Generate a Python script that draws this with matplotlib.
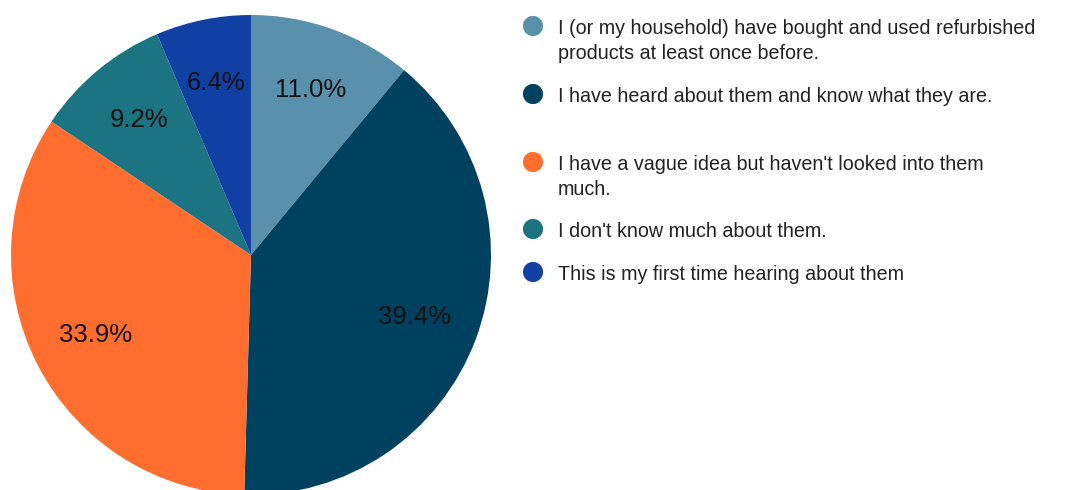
import matplotlib.pyplot as plt

plt.rcParams['font.family'] = ['Liberation Sans', 'DejaVu Sans']

answers = [
    "I (or my household) have bought and used refurbished\nproducts at least once before.",
    "I have heard about them and know what they are.",
    "I have a vague idea but haven't looked into them\nmuch.",
    "I don't know much about them.",
    "This is my first time hearing about them",
]
shares = [11.0, 39.4, 33.9, 9.2, 6.4]
colors = ['#5990ac', '#00415f', '#ff6d2f', '#1c7382', '#1140a4']

# legend rows (pixel y of each marker centre)
legend_y = [26, 94, 162, 229, 272]


def main():
    W, H = 1079, 490
    fig = plt.figure(figsize=(W / 100, H / 100), dpi=100)

    cx, cy, r = 251, 255, 240
    ax = fig.add_axes([(cx - r) / W, (H - cy - r) / H, 2 * r / W, 2 * r / H])
    wedges, texts = ax.pie(shares, colors=colors, startangle=90, counterclock=False,
                           labels=[f'{v:.1f}%' for v in shares], labeldistance=0.73,
                           wedgeprops=dict(linewidth=0))
    for t in texts:
        t.set_ha('center')
        t.set_va('center')
        t.set_fontsize(18.5)
        t.set_color('#111111')
    ax.set_xlim(-1, 1)
    ax.set_ylim(-1, 1)
    ax.set_aspect('equal')
    for w in wedges:
        w.set_clip_on(False)

    # legend drawn on an overlay in pixel coordinates
    lax = fig.add_axes([0, 0, 1, 1])
    lax.set_xlim(0, W)
    lax.set_ylim(H, 0)
    lax.axis('off')
    lax.scatter([533] * len(legend_y), legend_y, s=210, c=colors, linewidths=0)
    for y, label in zip(legend_y, answers):
        lax.text(558, y - 7, label, fontsize=14.2, color='#222222', va='top', ha='left',
                 linespacing=1.42)

    fig.savefig('out.png', dpi=100)


if __name__ == '__main__':
    main()
